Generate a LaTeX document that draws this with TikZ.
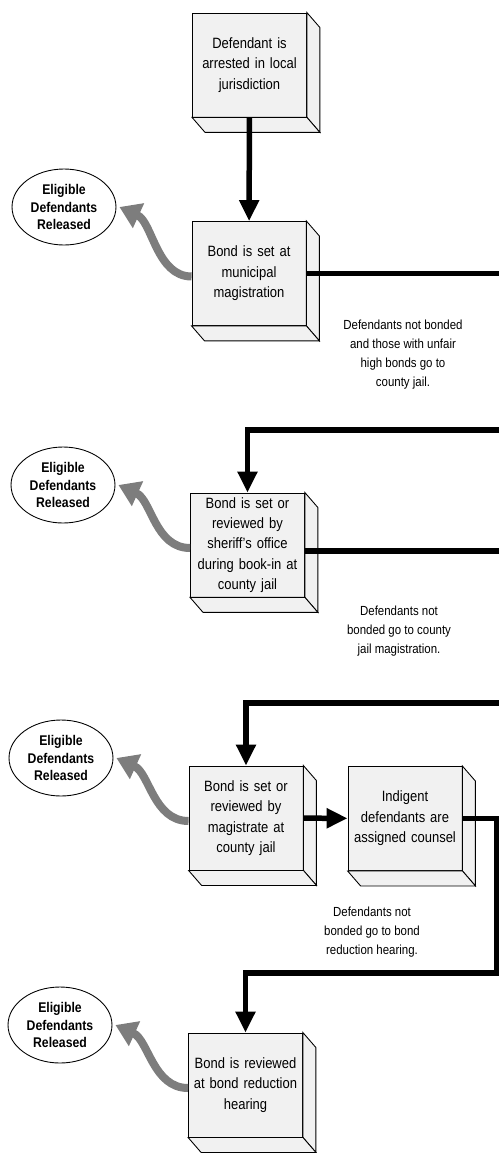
\documentclass[tikz,border=0pt]{standalone}
\usepackage{fontspec}
\setmainfont{Liberation Sans}[FakeStretch=0.87]
\usepackage{xcolor}
\usepackage{tikz}
\usetikzlibrary{shapes.geometric, arrows.meta, calc}
\definecolor{boxfill}{RGB}{241,241,241}
\definecolor{relgray}{RGB}{125,125,125}
\definecolor{mydark}{RGB}{0,0,0}
\tikzset{
  stagebox/.style={rectangle, draw=mydark, fill=boxfill,
    text width=2.2cm, align=center, minimum width=2.28cm,
    minimum height=2.08cm, inner sep=0pt, line width=0.5pt,
    font=\fontsize{8.5}{11.6}\selectfont},
  face/.style={draw=mydark, fill=boxfill, line width=0.5pt},
  releaseoval/.style={ellipse, draw=mydark, fill=white,
    minimum width=2.08cm, minimum height=1.52cm, inner sep=0pt,
    align=center, line width=0.5pt,
    font=\bfseries\fontsize{8}{10.2}\selectfont},
  notetext/.style={align=center, font=\fontsize{7.5}{10.8}\selectfont},
  flow/.style={line width=1.1mm, color=mydark,
    -{Triangle[width=3.8mm,length=4.2mm]}},
  flowline/.style={line width=1.1mm, color=mydark},
  release/.style={line width=1.6mm, color=relgray,
    -{Triangle[width=5.2mm,length=4.2mm]}}
}
\newcommand{\depthfaces}[1]{%
  \draw[face] (#1.north east) -- ++(13,15) -- ($(#1.south east)+(13,15)$) -- (#1.south east) -- cycle;
  \draw[face] (#1.south west) -- ++(13,15) -- ($(#1.south east)+(13,15)$) -- (#1.south east) -- cycle;
}

\begin{document}
\begin{tikzpicture}[x=0.02cm, y=-0.02cm]
  \useasboundingbox (0,0) rectangle (499,1153);
  \clip (0,0) rectangle (499,1153);

  % Stages
  \node[stagebox] (arrested) at (249.5,65) {Defendant is\\arrested in local\\jurisdiction};
  \node[stagebox] (muni) at (249,273.5) {Bond is set at\\municipal\\magistration};
  \node[stagebox] (sheriff) at (247.5,545) {Bond is set or\\reviewed by\\sheriff's office\\during book-in at\\county jail};
  \node[stagebox] (magis) at (246,818) {Bond is set or\\reviewed by\\magistrate at\\county jail};
  \node[stagebox] (counsel) at (405,818.5) {Indigent\\defendants are\\assigned counsel};
  \node[stagebox] (hearing) at (245.5,1085) {Bond is reviewed\\at bond reduction\\hearing};

  % Box depth
  \depthfaces{arrested}
  \depthfaces{muni}
  \depthfaces{sheriff}
  \depthfaces{magis}
  \depthfaces{counsel}
  \depthfaces{hearing}

  % Releases
  \node[releaseoval] (rel1) at (64,207) {Eligible\\Defendants\\Released};
  \node[releaseoval] (rel2) at (63,485) {Eligible\\Defendants\\Released};
  \node[releaseoval] (rel3) at (61,758) {Eligible\\Defendants\\Released};
  \node[releaseoval] (rel4) at (60,1025) {Eligible\\Defendants\\Released};

  % Notes
  \node[notetext] (note1) at (403,355) {Defendants not bonded\\and those with unfair\\high bonds go to\\county jail.};
  \node[notetext] (note2) at (399,631) {Defendants not\\bonded go to county\\jail magistration.};
  \node[notetext] (note3) at (372,932) {Defendants not\\bonded go to bond\\reduction hearing.};

  % Main flow
  \draw[flow] (arrested) -- (muni);
  \draw[flow] (muni.east) -| (512,430) -| (sheriff.north);
  \draw[flow] ([yshift=-0.12cm]sheriff.east) -| (512,703) -| (magis.north);
  \draw[flow] (magis) -- (counsel);
  \draw[flow] (counsel.east) -| (497,973) -| (hearing.north);

  % Release arrows
  \draw[release] ([yshift=-0.06cm]muni.west) .. controls +(-35,0) and +(33,15) .. ([xshift=0.06cm]rel1.east);
  \draw[release] ([yshift=-0.06cm]sheriff.west) .. controls +(-35,0) and +(33,15) .. ([xshift=0.06cm]rel2.east);
  \draw[release] ([yshift=-0.06cm]magis.west) .. controls +(-35,0) and +(33,15) .. ([xshift=0.06cm]rel3.east);
  \draw[release] ([yshift=-0.06cm]hearing.west) .. controls +(-35,0) and +(33,15) .. ([xshift=0.06cm]rel4.east);

\end{tikzpicture}
\end{document}
